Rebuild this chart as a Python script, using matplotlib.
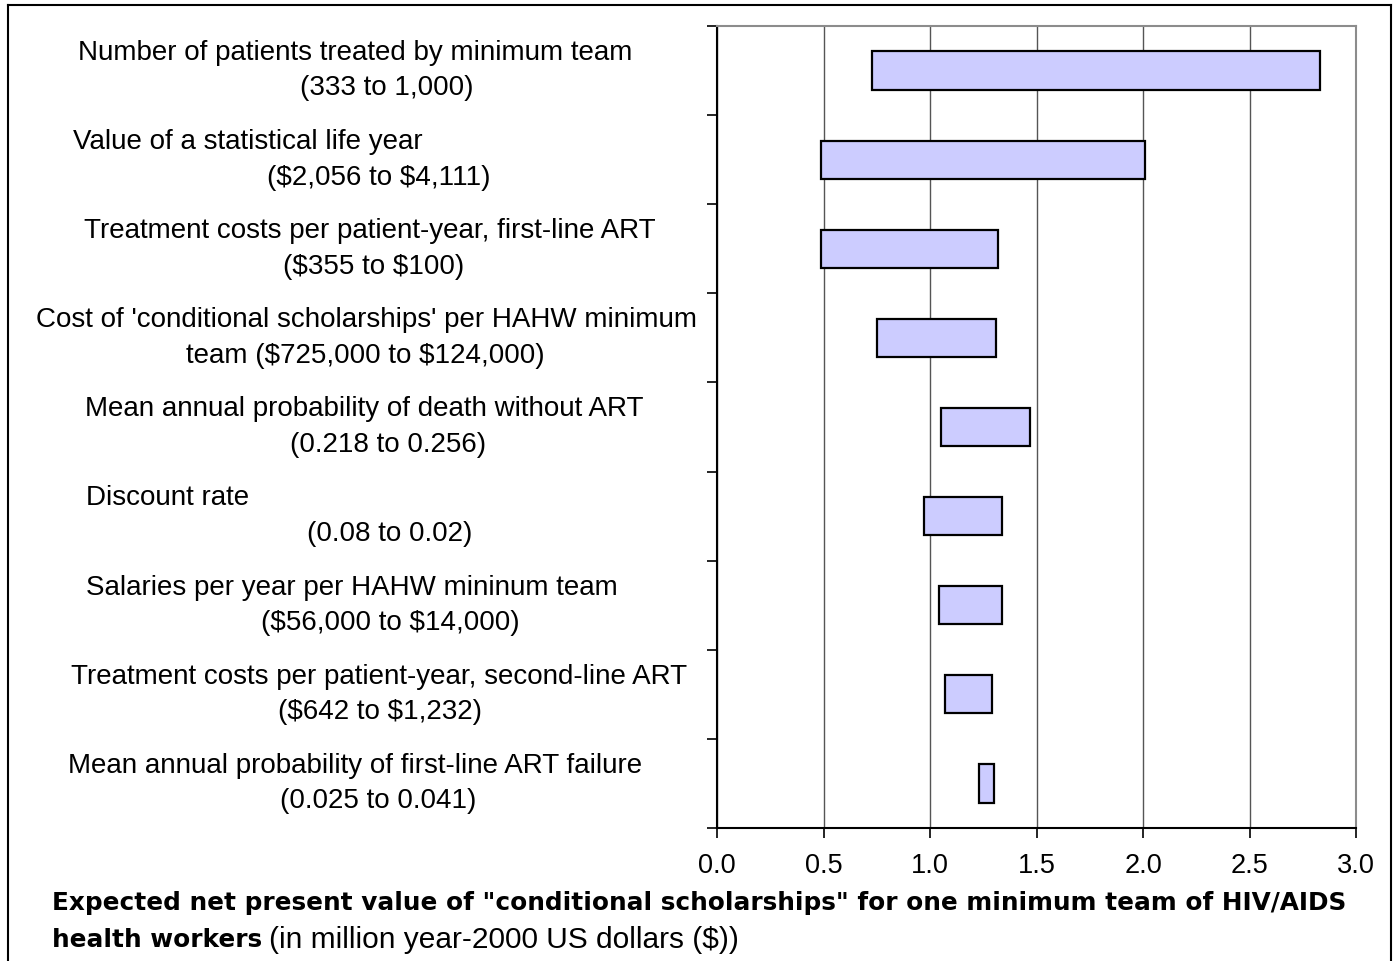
import matplotlib
matplotlib.use("Agg")
import matplotlib.pyplot as plt
from matplotlib.lines import Line2D
import matplotlib.transforms as mtransforms

plt.rcParams['font.family'] = ['Liberation Sans', 'DejaVu Sans']

# Tornado chart data (top to bottom)
param_names = [
    "Number of patients treated by minimum team",
    "Value of a statistical life year",
    "Treatment costs per patient-year, first-line ART",
    "Cost of 'conditional scholarships' per HAHW minimum",
    "Mean annual probability of death without ART",
    "Discount rate",
    "Salaries per year per HAHW mininum team",
    "Treatment costs per patient-year, second-line ART",
    "Mean annual probability of first-line ART failure",
]
param_ranges = [
    "(333 to 1,000)",
    "($2,056 to $4,111)",
    "($355 to $100)",
    "team ($725,000 to $124,000)",
    "(0.218 to 0.256)",
    "(0.08 to 0.02)",
    "($56,000 to $14,000)",
    "($642 to $1,232)",
    "(0.025 to 0.041)",
]
npv_low = [0.73, 0.49, 0.49, 0.75, 1.05, 0.97, 1.04, 1.07, 1.23]
npv_high = [2.83, 2.01, 1.32, 1.31, 1.47, 1.34, 1.34, 1.29, 1.30]
x_ticks = [0.0, 0.5, 1.0, 1.5, 2.0, 2.5, 3.0]

# label centre positions (figure pixels) for the two text lines of each category
name_cx = [355, 248, 370, 366, 364, 168, 352, 379, 355]
range_cx = [387, 379, 374, 365, 388, 390, 390, 380, 378]

W, H = 1399, 962
fig = plt.figure(figsize=(W / 100, H / 100), dpi=100)
ax = fig.add_axes([717 / W, 1 - 829 / H, 639 / W, 802 / H])

n = len(param_names)
ypos = [n - i - 0.5 for i in range(n)]
widths = [h - l for l, h in zip(npv_low, npv_high)]
ax.barh(ypos, widths, left=npv_low, height=0.43, color='#CCCCFF',
        edgecolor='black', linewidth=1.6, zorder=3)

ax.set_xlim(0, 3)
ax.set_ylim(0, n)
ax.set_xticks(x_ticks)
ax.set_xticklabels([f"{t:.1f}" for t in x_ticks], fontsize=19.5)
ax.set_yticks(range(n + 1))
ax.set_yticklabels([])
ax.tick_params(axis='x', direction='out', length=7, width=1.2, pad=10, colors='black')
ax.tick_params(axis='y', direction='out', length=7, width=1.2)
ax.grid(axis='x', color='#555555', linewidth=1.0, zorder=1)
ax.grid(axis='y', visible=False)
for side in ['left', 'bottom']:
    ax.spines[side].set_color('black')
    ax.spines[side].set_linewidth(1.5)
for side in ['top', 'right']:
    ax.spines[side].set_color('#8c8c8c')
    ax.spines[side].set_linewidth(1.5)

# category labels to the left of the plot
trans = mtransforms.blended_transform_factory(fig.transFigure, ax.transData)
for i in range(n):
    ax.text(name_cx[i] / W, ypos[i] + 0.21, param_names[i], transform=trans,
            ha='center', va='center', fontsize=20, clip_on=False, parse_math=False)
    ax.text(range_cx[i] / W, ypos[i] - 0.19, param_ranges[i], transform=trans,
            ha='center', va='center', fontsize=20, clip_on=False, parse_math=False)

# x axis title (bold + normal mix on the second line)
bold_font = ['DejaVu Sans']
fig.text(52 / W, 1 - 903 / H,
         'Expected net present value of "conditional scholarships" for one minimum team of HIV/AIDS',
         fontsize=17.8, fontweight='bold', family=bold_font, ha='left', va='center')
t_bold = fig.text(52 / W, 1 - 940 / H, 'health workers', fontsize=17.8,
                  fontweight='bold', family=bold_font, ha='left', va='center')
fig.canvas.draw()
bb = t_bold.get_window_extent()
fig.text(bb.x1 / W + 7 / W, 1 - 940 / H, '(in million year-2000 US dollars ($))',
         fontsize=21.5, ha='left', va='center', parse_math=False)

# outer chart border
border = dict(color='black', linewidth=1.5, transform=fig.transFigure)
fig.add_artist(Line2D([8 / W, 8 / W], [0, 1 - 6 / H], **border))
fig.add_artist(Line2D([8 / W, 1391 / W], [1 - 6 / H, 1 - 6 / H], **border))
fig.add_artist(Line2D([1391 / W, 1391 / W], [0, 1 - 6 / H], **border))

fig.savefig('out.png', dpi=100)
